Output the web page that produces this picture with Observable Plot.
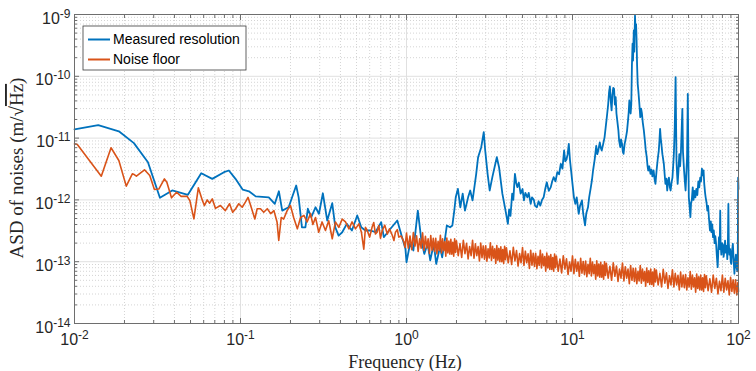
<!DOCTYPE html>
<html><head><meta charset="utf-8">
<script src="https://cdn.jsdelivr.net/npm/d3@7"></script>
<script src="https://cdn.jsdelivr.net/npm/@observablehq/plot@0.6"></script>
<style>html,body{margin:0;padding:0;background:#fff}#chart{width:756px;height:371px}</style>
</head><body><div id="chart"></div>
<script>
const seriesNames = ["Measured resolution", "Noise floor"];
const seriesColors = ["#0072BD", "#D95319"];
const xLabel = "Frequency (Hz)";
const yLabelParts = ["ASD of noises (m/\u221A", "Hz", ")"];

const xMajor = [0.01, 0.1, 1, 10, 100];
const xExp = ["-2", "-1", "0", "1", "2"];
const yMajor = [1e-14, 1e-13, 1e-12, 1e-11, 1e-10, 1e-9];
const yExp = ["-14", "-13", "-12", "-11", "-10", "-9"];
const xMinor = [0.02,0.03,0.04,0.05,0.06,0.07,0.08,0.09,0.2,0.3,0.4,0.5,0.6,0.7,0.8,0.9,
  2,3,4,5,6,7,8,9,20,30,40,50,60,70,80,90];
const yMinor = [2e-14,3e-14,4e-14,5e-14,6e-14,7e-14,8e-14,9e-14,2e-13,3e-13,4e-13,5e-13,6e-13,7e-13,8e-13,9e-13,
  2e-12,3e-12,4e-12,5e-12,6e-12,7e-12,8e-12,9e-12,2e-11,3e-11,4e-11,5e-11,6e-11,7e-11,8e-11,9e-11,
  2e-10,3e-10,4e-10,5e-10,6e-10,7e-10,8e-10,9e-10];

// Measured resolution (Hz, m/sqrt(Hz))
const freqMeas = [
0.01,0.0139,0.0185,0.0228,0.0277,0.0327,0.0388,0.0482,0.058,0.0676,
0.0795,0.0851,0.0933,0.1032,0.1124,0.1234,0.148,0.161,0.1703,0.1784,
0.195,0.2165,0.224,0.2345,0.246,0.2545,0.267,0.283,0.297,0.3135,
0.333,0.357,0.3725,0.39,0.41,0.437,0.469,0.505,0.534,0.565,
0.607,0.65,0.704,0.73,0.785,0.88,0.94,0.985,1.0,1.05,
1.1,1.17,1.23,1.28,1.34,1.39,1.46,1.51,1.59,1.64,
1.70,1.75,1.83,1.89,1.94,1.98,2.04,2.11,2.18,2.25,
2.35,2.42,2.5,2.63,2.70,2.82,2.92,2.98,3.08,3.17,
3.29,3.5,3.61,3.78,3.95,4.08,4.15,4.23,4.33,4.4,
4.5,4.58,4.65,4.75,4.87,5.0,5.1,5.2,5.35,5.45,
5.6,5.7,5.85,5.95,6.1,6.25,6.4,6.55,6.7,6.85,
7.0,7.2,7.4,7.55,7.7,7.9,8.1,8.3,8.5,8.7,
8.9,9.05,9.2,9.35,9.5,9.65,9.9,10.05,10.2,10.4,
10.6,10.9,11.1,11.4,11.6,11.9,12.1,12.4,12.6,12.9,
13.1,13.3,13.6,13.9,14.1,14.3,14.6,14.8,15.0,15.3,
15.6,15.85,16.1,16.4,16.6,16.8,17.0,17.2,17.4,17.6,
17.8,18.0,18.2,18.4,18.6,18.9,19.1,19.4,19.6,19.9,
20.1,20.3,20.6,21.0,21.3,21.6,21.8,22.0,22.2,22.4,
22.6,22.8,23.0,23.15,23.4,23.55,23.8,24.0,24.15,24.3,
24.5,24.7,24.9,25.2,25.4,25.6,25.9,26.2,26.5,26.9,
27.3,27.6,28.0,28.3,28.6,29.0,29.5,29.9,30.3,30.8,
31.2,31.6,32.1,32.6,33.1,33.4,33.7,34.0,34.3,34.8,
35.5,35.9,36.3,36.8,37.2,37.7,38.1,38.6,39.0,39.5,
40.0,40.4,40.8,41.3,41.8,42.05,42.3,42.7,43.0,43.5,
44.0,44.5,45.0,45.9,46.3,47.0,47.5,48.0,48.6,49.0,
49.5,49.9,50.2,50.7,51.3,51.8,52.3,53.0,53.6,54.3,
55.0,55.7,56.5,57.3,58.0,58.8,59.5,60.2,60.9,61.6,
62.2,62.9,63.4,64.2,64.9,65.6,66.4,67.3,68.1,68.8,
69.5,70.2,71.0,71.8,72.5,73.3,74.1,74.9,75.6,76.3,
77.0,77.6,78.0,78.8,79.6,80.5,81.3,82.2,83.0,83.9,
84.8,85.6,86.3,86.9,87.4,88.2,89.0,89.8,90.5,91.4,
92.5,93.4,94.5,95.4,96.5,97.4,98.5,99.0,99.5,100];
const ampMeas = [
1.38e-11,1.62e-11,1.29e-11,8.3e-12,4.07e-12,1.08e-12,1.42e-12,1.21e-12,2.7e-12,2.19e-12,
2.81e-12,2.99e-12,2.19e-12,1.46e-12,1.38e-12,1.14e-12,1.1e-12,8.65e-13,1.38e-12,6.7e-13,
7.6e-13,1.71e-12,1.1e-12,3.6e-13,3.6e-13,7.2e-13,5.25e-13,7.6e-13,5.96e-13,1.28e-12,
4.64e-13,8.85e-13,3.6e-13,2.65e-13,3.0e-13,4.1e-13,3.2e-13,5.6e-13,3.6e-13,3.2e-13,
3.2e-13,3.0e-13,4.36e-13,2.49e-13,3.2e-13,4.64e-13,2.49e-13,1.62e-13,9.8e-14,1.95e-13,
1.52e-13,6.7e-13,2.2e-13,1.34e-13,1.95e-13,1.05e-13,1.95e-13,9.2e-14,1.72e-13,1.18e-13,
2.2e-13,3.86e-13,3.6e-13,3.86e-13,6.7e-13,1.1e-12,1.51e-12,7.6e-13,1.26e-12,6.7e-13,
1.1e-12,1.42e-12,9.8e-13,2.64e-12,4.91e-12,7.13e-12,1.25e-11,6.3e-12,2.64e-12,1.42e-12,
2.33e-12,4.91e-12,3.38e-12,1.26e-12,6.7e-13,4.1e-13,7.0e-13,5.5e-13,1.26e-12,1.0e-12,
2.64e-12,1.9e-12,1.61e-12,1.9e-12,1.26e-12,1.5e-12,9.8e-13,1.3e-12,1.1e-12,1.3e-12,
8.65e-13,1.1e-12,1.0e-12,8.0e-13,7.6e-13,9.5e-13,8.1e-13,1.0e-12,1.1e-12,1.5e-12,
1.93e-12,1.4e-12,1.61e-12,2.0e-12,2.33e-12,2.0e-12,2.81e-12,2.6e-12,3.84e-12,3.2e-12,
6.3e-12,4.2e-12,4.5e-12,5.5e-12,8.08e-12,4.5e-12,2.33e-12,1.6e-12,1.1e-12,8.65e-13,
1.1e-12,5.96e-13,8.0e-13,9.8e-13,6.0e-13,3.86e-13,6.0e-13,7.6e-13,1.1e-12,1.61e-12,
2.1e-12,2.99e-12,4.5e-12,7.5e-12,5.5e-12,6.3e-12,8.5e-12,7.0e-12,6.3e-12,8.0e-12,
1.03e-11,1.5e-11,2.18e-11,3.5e-11,5.5e-11,6.84e-11,4.0e-11,2.8e-11,5.0e-11,6.5e-11,
6.28e-11,3.5e-11,4.6e-11,2.5e-11,1.93e-11,1.33e-11,9.0e-12,7.13e-12,9.5e-12,8.0e-12,
6.0e-12,5.57e-12,8.0e-12,1.03e-11,1.3e-11,1.93e-11,2.6e-11,4.06e-11,3.0e-11,2.5e-11,
3.5e-11,1.5e-10,3.36e-10,1.8e-10,5.51e-10,2.5e-10,9.6e-10,5.0e-10,7.0e-10,4.3e-10,
1.5e-10,7.56e-11,6.0e-11,4.0e-11,3.0e-11,2.18e-11,3.0e-11,2.5e-11,1.8e-11,1.33e-11,
9.0e-12,6.5e-12,4.91e-12,3.6e-12,2.99e-12,3.5e-12,2.64e-12,3.1e-12,2.4e-12,3.0e-12,
2.2e-12,1.82e-12,3.0e-12,4.5e-12,6.3e-12,9.0e-12,1.41e-11,1.0e-11,8.1e-12,5.5e-12,
3.84e-12,2.6e-12,1.82e-12,2.2e-12,1.42e-12,2.0e-12,2.3e-12,1.6e-12,1.42e-12,1.9e-12,
2.3e-12,3.5e-12,5.57e-12,1.5e-11,9.68e-11,2.0e-11,4.34e-12,2.5e-12,1.82e-12,3.0e-12,
5.5e-12,3.5e-12,6.0e-12,2.98e-11,6.0e-12,2.99e-12,2.0e-12,1.42e-12,3.0e-12,5.0e-12,
5.21e-11,5.0e-12,1.1e-12,8.0e-13,5.25e-13,9.0e-13,9.8e-13,1.6e-12,1.0e-12,1.4e-12,
1.1e-12,1.5e-12,1.2e-12,2.0e-12,1.6e-12,2.3e-12,2.0e-12,3.2e-12,2.5e-12,2.99e-12,
1.8e-12,1.3e-12,1.1e-12,9.0e-13,6.7e-13,8.0e-13,5.0e-13,3.2e-13,4.5e-13,3.0e-13,
4.0e-13,2.5e-13,3.2e-13,2.0e-13,2.6e-13,1.95e-13,1.2e-13,8.15e-14,1.5e-13,2.5e-13,
1.6e-13,6.7e-13,2.0e-13,1.3e-13,2.0e-13,1.9e-13,1.2e-13,1.5e-13,2.2e-13,1.4e-13,
1.8e-13,1.1e-13,2.0e-13,8.65e-13,2.0e-13,1.3e-13,1.6e-13,1.0e-13,9.2e-14,1.5e-13,
1.95e-13,1.1e-13,6.37e-14,1.0e-13,1.3e-13,8.0e-14,7.0e-14,1.1e-13,2.3e-12,1.5e-12];

// Noise floor (Hz, m/sqrt(Hz))
const freqNoise = [
0.01,0.0104,0.0145,0.0166,0.0185,0.0205,0.0223,0.0229,0.0236,0.0264,
0.0284,0.0303,0.0322,0.0348,0.036,0.0384,0.0412,0.0439,0.0477,0.0495,
0.0524,0.0557,0.0588,0.0606,0.063,0.0652,0.0676,0.0706,0.0757,0.081,
0.0859,0.0897,0.0935,0.0976,
0.1024,0.107,0.111,0.116,0.122,0.126,0.132,0.138,0.145,0.152,
0.159,0.166,0.170,0.176,0.182,0.191,0.200,0.209,0.220,0.230,
0.241,0.252,0.264,0.273,0.283,0.296,0.310,0.325,0.340,0.357,
0.373,0.391,0.410,0.429,0.450,0.470,0.493,0.516,0.535,0.553,
0.566,0.580,0.600,0.620,0.635,0.650,0.665,0.681,0.697,0.714,
0.74,0.766,0.79,0.822,0.84,0.858,0.88,0.899,0.93,0.964,
0.98,
1.000,1.025,1.050,1.075,1.100,1.125,1.150,1.175,1.200,1.225,1.250,1.275,1.300,1.325,1.350,1.375,1.400,1.425,1.450,1.475,
1.500,1.525,1.550,1.575,1.600,1.625,1.650,1.675,1.700,1.725,1.750,1.775,1.800,1.825,1.850,1.875,1.900,1.925,1.950,1.975,
2.00,2.05,2.10,2.15,2.20,2.25,2.30,2.35,2.40,2.45,2.50,2.55,2.60,2.65,2.70,2.75,2.80,2.85,2.90,2.95,
3.00,3.05,3.10,3.15,3.20,3.25,3.30,3.35,3.40,3.45,3.50,3.55,3.60,3.65,3.70,3.75,3.80,3.85,3.90,3.95,
4.0,4.1,4.2,4.3,4.4,4.5,4.6,4.7,4.8,4.9,5.0,5.1,5.2,5.3,5.4,5.5,5.6,5.7,5.8,5.9,
6.0,6.1,6.2,6.3,6.4,6.5,6.6,6.7,6.8,6.9,7.0,7.1,7.2,7.3,7.4,7.5,7.6,7.7,7.8,7.9,
8.0,8.2,8.4,8.6,8.8,9.0,9.2,9.4,9.6,9.8,10.0,10.2,10.4,10.6,10.8,11.0,11.2,11.4,11.6,11.8,
12.0,12.2,12.4,12.6,12.8,13.0,13.2,13.4,13.6,13.8,14.0,14.2,14.4,14.6,14.8,15.0,15.2,15.4,15.6,15.8,
16.0,16.4,16.8,17.2,17.6,18.0,18.4,18.8,19.2,19.6,20.0,20.4,20.8,21.2,21.6,22.0,22.4,22.8,23.2,23.6,
24.0,24.4,24.8,25.2,25.6,26.0,26.4,26.8,27.2,27.6,28.0,28.4,28.8,29.2,29.6,30.0,30.4,30.8,31.2,31.6,
32.0,32.8,33.6,34.4,35.2,36.0,36.8,37.6,38.4,39.2,40.0,40.8,41.6,42.4,43.2,44.0,44.8,45.6,46.4,47.2,
48.0,48.8,49.6,50.4,51.2,52.0,52.8,53.6,54.4,55.2,56.0,56.8,57.6,58.4,59.2,60.0,60.8,61.6,62.4,63.2,
64.0,65.6,67.2,68.8,70.4,72.0,73.6,75.2,76.8,78.4,80.0,81.6,83.2,84.8,86.4,88.0,89.6,91.2,92.8,94.4,
96.0,97.6,99.2,100];
const ampNoise = [
8.08e-12,7.9e-12,2.42e-12,6.97e-12,4.34e-12,1.67e-12,2.64e-12,2.57e-12,2.42e-12,3.07e-12,
2.48e-12,1.47e-12,1.5e-12,2.19e-12,1.93e-12,1.08e-12,1.33e-12,1.14e-12,1.14e-12,9.8e-13,
4.94e-13,1.57e-12,1.0e-12,8.1e-13,1.0e-12,8.85e-13,1.04e-12,7.3e-13,8.1e-13,6.7e-13,
8.65e-13,6.3e-13,7.2e-13,8.65e-13,
7.6e-13,9.2e-13,1.1e-12,7.6e-13,4.9e-13,7.2e-13,7.2e-13,6.3e-13,7.2e-13,6.0e-13,
6.7e-13,4.4e-13,2.2e-13,5.2e-13,4.9e-13,6.7e-13,8.1e-13,5.2e-13,3.4e-13,5.2e-13,
5.6e-13,4.4e-13,6.0e-13,4.0e-13,5.2e-13,3.0e-13,4.4e-13,3.2e-13,4.6e-13,2.35e-13,
4.4e-13,3.6e-13,4.9e-13,4.4e-13,3.4e-13,4.4e-13,3.4e-13,4.1e-13,3.0e-13,1.6e-13,
3.6e-13,3.2e-13,2.5e-13,3.6e-13,4.3e-13,2.8e-13,3.0e-13,3.85e-13,2.4e-13,3.2e-13,
3.9e-13,2.8e-13,3.4e-13,2.65e-13,2.2e-13,3.0e-13,3.3e-13,2.5e-13,2.6e-13,2.1e-13,
1.7e-13,
2.90e-13,1.66e-13,2.61e-13,1.56e-13,2.96e-13,1.79e-13,2.63e-13,1.47e-13,2.35e-13,1.66e-13,2.93e-13,1.52e-13,2.57e-13,1.66e-13,2.34e-13,1.36e-13,2.66e-13,1.54e-13,2.39e-13,1.46e-13,
2.40e-13,1.34e-13,2.14e-13,1.52e-13,2.67e-13,1.38e-13,2.34e-13,1.51e-13,2.12e-13,1.23e-13,2.41e-13,1.39e-13,2.16e-13,1.32e-13,2.31e-13,1.32e-13,2.06e-13,1.23e-13,2.34e-13,1.41e-13,
2.18e-13,1.25e-13,1.96e-13,1.17e-13,2.22e-13,1.35e-13,1.98e-13,1.11e-13,1.76e-13,1.25e-13,2.21e-13,1.14e-13,1.94e-13,1.25e-13,1.76e-13,1.03e-13,2.01e-13,1.16e-13,1.80e-13,1.10e-13,
1.81e-13,1.02e-13,1.61e-13,1.15e-13,2.02e-13,1.05e-13,1.77e-13,1.14e-13,1.61e-13,9.4e-14,1.83e-13,1.06e-13,1.64e-13,1.00e-13,1.75e-13,1.00e-13,1.57e-13,9.4e-14,1.78e-13,1.08e-13,
1.68e-13,9.6e-14,1.50e-13,9.0e-14,1.71e-13,1.03e-13,1.51e-13,8.5e-14,1.35e-13,9.6e-14,1.69e-13,8.7e-14,1.48e-13,9.6e-14,1.34e-13,7.8e-14,1.53e-13,8.8e-14,1.37e-13,8.4e-14,
1.37e-13,7.7e-14,1.22e-13,8.7e-14,1.53e-13,7.9e-14,1.33e-13,8.6e-14,1.21e-13,7.0e-14,1.38e-13,7.9e-14,1.23e-13,7.5e-14,1.31e-13,7.5e-14,1.17e-13,7.0e-14,1.33e-13,8.0e-14,
1.23e-13,7.0e-14,1.10e-13,6.6e-14,1.25e-13,7.6e-14,1.11e-13,6.2e-14,9.9e-14,7.0e-14,1.24e-13,6.4e-14,1.09e-13,7.0e-14,9.9e-14,5.8e-14,1.13e-13,6.5e-14,1.01e-13,6.2e-14,
1.02e-13,5.7e-14,9.1e-14,6.4e-14,1.13e-13,5.9e-14,9.9e-14,6.4e-14,9.0e-14,5.2e-14,1.03e-13,5.9e-14,9.2e-14,5.6e-14,9.8e-14,5.6e-14,8.8e-14,5.2e-14,1.00e-13,6.0e-14,
9.4e-14,5.4e-14,8.4e-14,5.0e-14,9.6e-14,5.8e-14,8.5e-14,4.8e-14,7.6e-14,5.4e-14,9.5e-14,4.9e-14,8.3e-14,5.4e-14,7.6e-14,4.4e-14,8.7e-14,5.0e-14,7.8e-14,4.8e-14,
7.8e-14,4.4e-14,7.0e-14,4.9e-14,8.7e-14,4.5e-14,7.6e-14,4.9e-14,6.9e-14,4.0e-14,7.9e-14,4.6e-14,7.1e-14,4.3e-14,7.6e-14,4.3e-14,6.8e-14,4.0e-14,7.7e-14,4.7e-14,
7.3e-14,4.2e-14,6.5e-14,3.9e-14,7.5e-14,4.5e-14,6.6e-14,3.7e-14,5.9e-14,4.2e-14,7.4e-14,3.9e-14,6.5e-14,4.2e-14,6.0e-14,3.5e-14,6.8e-14,3.9e-14,6.1e-14,3.8e-14,
6.2e-14,3.5e-14,5.5e-14,3.9e-14,6.9e-14,3.6e-14,6.1e-14,3.9e-14,5.5e-14,3.2e-14,6.3e-14,3.7e-14,5.7e-14,3.5e-14,6.1e-14,3.5e-14,5.5e-14,3.3e-14,6.2e-14,3.8e-14,
5.9e-14,3.4e-14,5.3e-14,3.2e-14,6.1e-14,3.7e-14,5.4e-14,3.0e-14,4.8e-14,3.4e-14,6.1e-14,3.2e-14,5.4e-14,3.5e-14,4.9e-14,2.9e-14,5.6e-14,3.3e-14,5.1e-14,3.1e-14,
5.1e-14,2.9e-14,4.6e-14,3.3e-14];

const measured = freqMeas.map((f, i) => ({f, v: ampMeas[i]})).filter(d => d.v != null);
const noise = freqNoise.map((f, i) => ({f, v: ampNoise[i]})).filter(d => d.v != null);

const axisColor = "#6e6e6e";
const sansFont = "'Liberation Sans', Arial, Helvetica, sans-serif";
const serifFont = "'Liberation Serif', 'DejaVu Serif', serif";

const chart = Plot.plot({
  width: 756, height: 371,
  marginLeft: 74, marginRight: 18, marginTop: 14, marginBottom: 48,
  style: {fontFamily: sansFont, background: "#fff", color: "#262626"},
  x: {type: "log", domain: [0.01, 100]},
  y: {type: "log", domain: [1e-14, 1e-9]},
  marks: [
    Plot.gridX(xMinor, {stroke: "#d4d4d4", strokeOpacity: 1, strokeDasharray: "1,2"}),
    Plot.gridY(yMinor, {stroke: "#d4d4d4", strokeOpacity: 1, strokeDasharray: "1,2"}),
    Plot.gridX(xMajor, {stroke: "#e0e0e0", strokeOpacity: 1}),
    Plot.gridY(yMajor, {stroke: "#e0e0e0", strokeOpacity: 1}),
    Plot.line(measured, {x: "f", y: "v", stroke: seriesColors[0], strokeWidth: 1.8}),
    Plot.line(noise, {x: "f", y: "v", stroke: seriesColors[1], strokeWidth: 1.6}),
    Plot.frame({stroke: axisColor}),
    Plot.axisX(xMajor, {anchor: "bottom", tickSize: -5, stroke: axisColor, tickFormat: () => "", label: null}),
    Plot.axisX(xMajor, {anchor: "top", tickSize: -5, stroke: axisColor, tickFormat: () => "", label: null}),
    Plot.axisX(xMinor, {anchor: "bottom", tickSize: -3, stroke: axisColor, tickFormat: () => "", label: null}),
    Plot.axisX(xMinor, {anchor: "top", tickSize: -3, stroke: axisColor, tickFormat: () => "", label: null}),
    Plot.axisY(yMajor, {anchor: "left", tickSize: -5, stroke: axisColor, tickFormat: () => "", label: null}),
    Plot.axisY(yMajor, {anchor: "right", tickSize: -5, stroke: axisColor, tickFormat: () => "", label: null}),
    Plot.axisY(yMinor, {anchor: "left", tickSize: -3, stroke: axisColor, tickFormat: () => "", label: null}),
    Plot.axisY(yMinor, {anchor: "right", tickSize: -3, stroke: axisColor, tickFormat: () => "", label: null}),
    Plot.axisX(xMajor, {anchor: "bottom", tickSize: 0, tickPadding: 10.5, fontSize: 16, fill: "#262626",
      tickFormat: d => "10^" + xExp[xMajor.indexOf(d)], label: null}),
    Plot.axisY(yMajor, {anchor: "left", tickSize: 0, tickPadding: 4, fontSize: 16, dy: 4, fill: "#262626",
      tickFormat: d => "10^" + yExp[yMajor.indexOf(d)], label: null})
  ]
});
document.getElementById("chart").appendChild(chart);

const svg = d3.select(chart);
// superscript exponents
svg.selectAll("text").each(function () {
  const s = this.textContent;
  if (!s || s.indexOf("^") < 0) return;
  const [b, e] = s.split("^");
  const t = d3.select(this);
  t.text(b);
  t.append("tspan").attr("dy", "-0.5em").attr("font-size", "0.75em").text(e);
});

// axis titles
svg.append("text")
  .attr("x", 405).attr("y", 368)
  .attr("text-anchor", "middle")
  .attr("font-family", serifFont).attr("font-size", 18).attr("fill", "#262626")
  .text(xLabel);
const yl = svg.append("text")
  .attr("transform", "translate(23,168) rotate(-90)")
  .attr("text-anchor", "middle")
  .attr("font-family", serifFont).attr("font-size", 19).attr("fill", "#262626");
yl.append("tspan").text(yLabelParts[0]);
yl.append("tspan").attr("text-decoration", "overline").text(yLabelParts[1]);
yl.append("tspan").text(yLabelParts[2]);

// legend
const lg = svg.append("g");
lg.append("rect").attr("x", 83).attr("y", 26).attr("width", 163).attr("height", 44)
  .attr("fill", "#fff").attr("stroke", "#3a3a3a").attr("stroke-width", 0.8);
seriesNames.forEach((name, i) => {
  const yy = 39.5 + i * 20;
  lg.append("line").attr("x1", 88).attr("x2", 110).attr("y1", yy).attr("y2", yy)
    .attr("stroke", seriesColors[i]).attr("stroke-width", 2);
  lg.append("text").attr("x", 113).attr("y", yy).attr("dy", "0.35em")
    .attr("text-anchor", "start")
    .attr("font-family", sansFont).attr("font-size", 14).attr("fill", "#000").text(name);
});
</script>
</body></html>
